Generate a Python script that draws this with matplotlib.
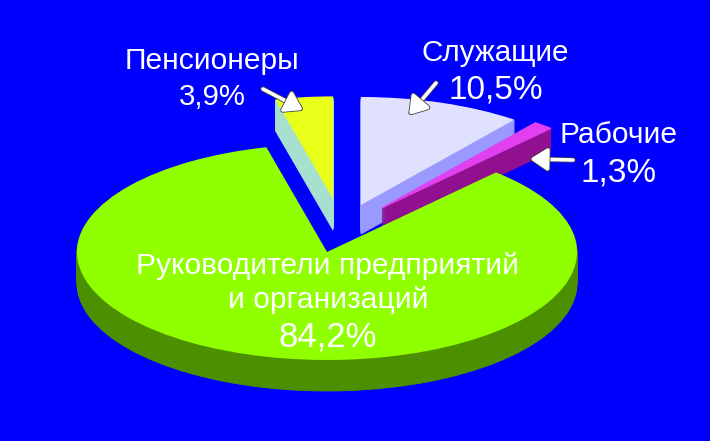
import matplotlib
matplotlib.use("Agg")
import matplotlib.pyplot as plt
import matplotlib.patheffects as pe
from matplotlib.patches import FancyArrowPatch

categories = ["Пенсионеры", "Руководители предприятий\nи организаций", "Рабочие", "Служащие"]
shares = [3.9, 84.2, 1.3, 10.5]
share_labels = ["3,9%", "84,2%", "1,3%", "10,5%"]
top_colors = ["#E8FF1A", "#90FF00", "#E040F0", "#E0E0FF"]
side_colors = ["#A8E0D0", "#4B9000", "#901090", "#9999FF"]
z_order = [1, 4, 3, 2]

W, H = 710, 441
RX, RY = 250, 108
# apex of each slice in picture pixels, its depth and its radius
apex = [(333, 199), (327, 252), (382, 208), (361, 205)]
depth = [31, 31, 23, 29]
radius = [0.95, 1, 1, 1]

plt.rcParams["font.family"] = ["Liberation Sans", "DejaVu Sans"]
fig = plt.figure(figsize=(W / 100, H / 100), dpi=100, facecolor="#0000FF")
ax = fig.add_axes([0, 0, 1, 1])


def layer(offset):
    wedges, _ = ax.pie(shares, startangle=90, counterclock=True, colors=top_colors)
    for i, w in enumerate(wedges):
        w.set_zorder(z_order[i])
        w.set_radius(radius[i])
        x, y = apex[i]
        if offset is None:
            w.set_center((x / RX, (H - y) / RY))
            w.set_facecolor(top_colors[i])
            if i == 2:
                w.set_edgecolor(top_colors[i])
                w.set_linewidth(0.8)
            else:
                w.set_edgecolor("none")
        else:
            w.set_center((x / RX, (H - y - offset) / RY))
            w.set_facecolor(side_colors[i])
            w.set_edgecolor(side_colors[i])
            w.set_linewidth(0.6)
            w.set_visible(offset <= depth[i])


for off in range(max(depth), 0, -1):
    layer(off)
layer(None)
ax.set_aspect("auto")
ax.set_xlim(0, W / RX)
ax.set_ylim(0, H / RY)
ax.axis("off")

ov = fig.add_axes([0, 0, 1, 1], zorder=5)
ov.set_xlim(0, W)
ov.set_ylim(H, 0)
ov.axis("off")
ov.patch.set_alpha(0)


def label(x, y, s, size):
    ov.text(x, y, s, color="white", fontsize=size, ha="center", va="center")


label(212, 61, categories[0], 21.6)
label(212, 97, share_labels[0], 21.2)
label(495, 53, categories[3], 21.3)
label(496, 90, share_labels[3], 24)
label(619, 135, categories[2], 21.6)
label(619, 173, share_labels[2], 24)
label(328, 266, "Руководители предприятий", 21.6)
label(328, 300, "и организаций", 21.6)
label(328, 337, share_labels[1], 25)

arrows = [((263, 89), (303, 110)), ((436, 83), (409, 115)), ((573, 160), (530, 159))]
for tail, tip in arrows:
    ov.add_patch(FancyArrowPatch(
        tail, tip, arrowstyle="-|>,head_length=4,head_width=2.6", mutation_scale=2.6,
        color="white", lw=2.6, shrinkA=0, shrinkB=0, zorder=6,
        path_effects=[pe.Stroke(linewidth=3.8, foreground="#444444"), pe.Normal()]))

fig.savefig("out.png", dpi=100, facecolor=fig.get_facecolor())
